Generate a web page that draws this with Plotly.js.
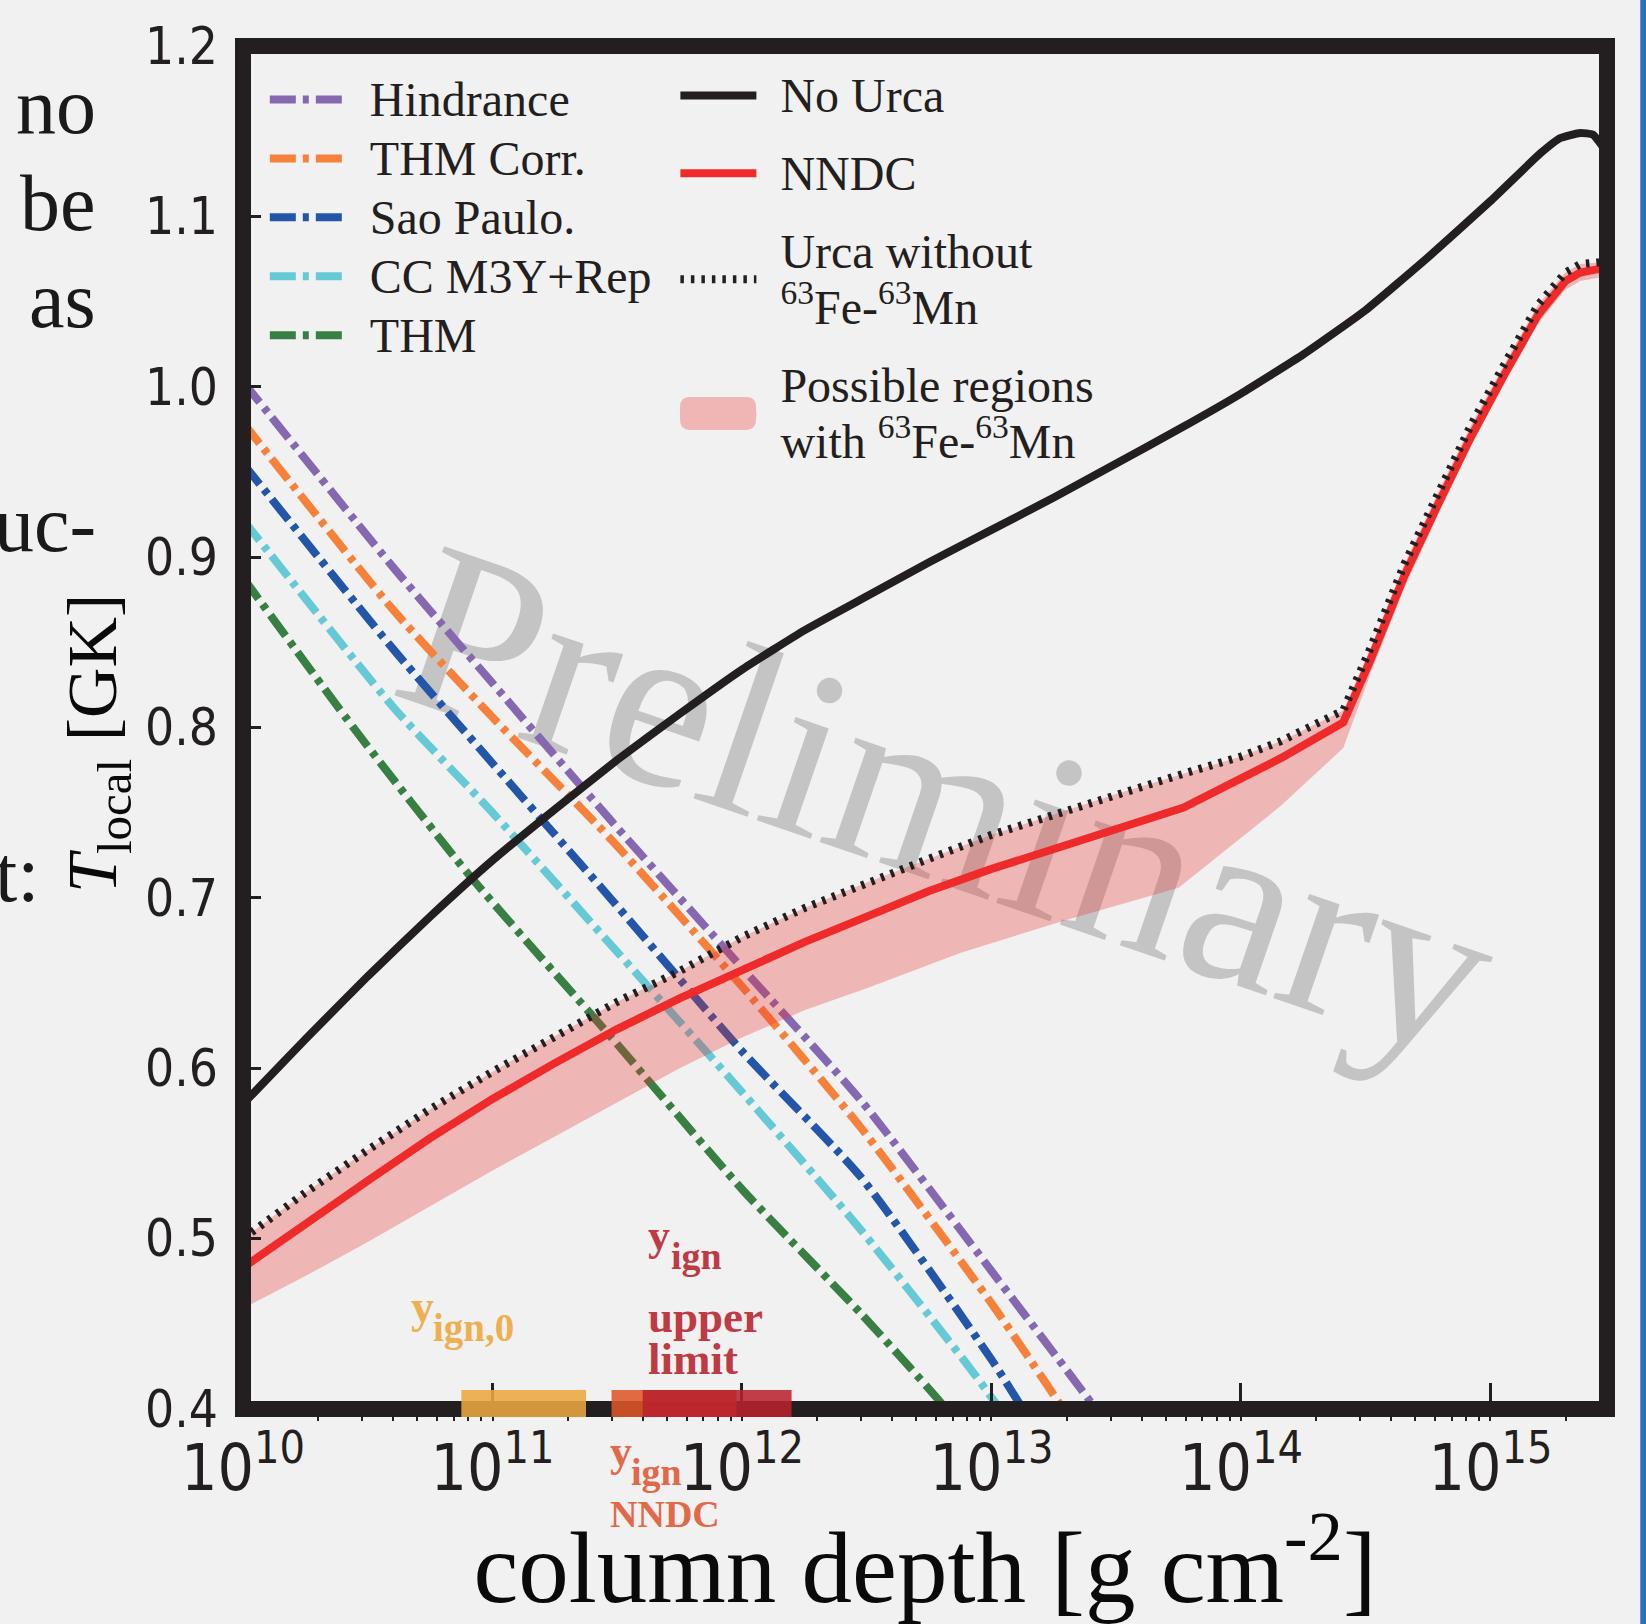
<!DOCTYPE html>
<html>
<head>
<meta charset="utf-8">
<script src="https://cdn.plot.ly/plotly-3.0.1.min.js"></script>
<style>
html,body{margin:0;padding:0;background:#f1f1f1;}
#chart{width:1646px;height:1624px;}
</style>
</head>
<body>
<div id="chart"></div>
<script>
// ---------- data (column depth in g cm^-2, temperature in GK) ----------
const hindranceX = [1e10, 4e10, 1e11, 3e11, 1e12, 3e12, 1e13, 2.5e13, 3e13];
const hindranceY = [1.003, 0.894, 0.826, 0.745, 0.659, 0.581, 0.481, 0.404, 0.388];

const thmCorrX = [1e10, 4e10, 1e11, 3e11, 1e12, 3e12, 1e13, 2e13];
const thmCorrY = [0.979, 0.869, 0.806, 0.734, 0.648, 0.565, 0.462, 0.397];

const saoPauloX = [1e10, 4e10, 1e11, 3e11, 1e12, 3e12, 1e13, 1.5e13];
const saoPauloY = [0.955, 0.846, 0.779, 0.699, 0.610, 0.536, 0.429, 0.388];

const ccM3yX = [1e10, 4e10, 1e11, 3e11, 1e12, 3e12, 8e12, 1.2e13];
const ccM3yY = [0.922, 0.812, 0.750, 0.672, 0.586, 0.505, 0.426, 0.391];

const thmX = [1e10, 2.8e10, 8e10, 3e11, 1e12, 3e12, 6e12, 8e12];
const thmY = [0.888, 0.799, 0.714, 0.618, 0.529, 0.456, 0.407, 0.385];

const noUrcaX = [1e10, 1.778e10, 3.162e10, 5.623e10, 1e11, 1.778e11, 3.162e11, 5.623e11, 1e12, 1.778e12,
                 3.162e12, 5.623e12, 1e13, 1.778e13, 3.162e13, 5.623e13, 1e14, 1.778e14, 3.162e14, 5.623e14,
                 1e15, 1.585e15, 1.905e15, 2.291e15, 2.570e15, 2.818e15];
const noUrcaY = [0.579, 0.617, 0.654, 0.689, 0.722, 0.752, 0.781, 0.808, 0.834, 0.857,
                 0.877, 0.897, 0.916, 0.935, 0.955, 0.975, 0.996, 1.019, 1.045, 1.076,
                 1.109, 1.137, 1.146, 1.149, 1.148, 1.141];

const nndcX = [1e10, 1.778e10, 3.162e10, 5.623e10, 1e11, 1.778e11, 3.162e11, 5.623e11, 1e12, 1.778e12,
               3.162e12, 5.623e12, 1e13, 1.778e13, 3.162e13, 5.888e13, 1.445e14, 2.570e14, 3.311e14, 4.519e14,
               6.166e14, 8.318e14, 1.135e15, 1.549e15, 1.995e15, 2.291e15, 2.692e15, 2.951e15];
const nndcY = [0.483, 0.509, 0.534, 0.559, 0.582, 0.603, 0.623, 0.641, 0.658, 0.674,
               0.689, 0.704, 0.717, 0.729, 0.741, 0.753, 0.782, 0.803, 0.840, 0.889,
               0.931, 0.970, 1.007, 1.042, 1.062, 1.067, 1.069, 1.069];

const noFeMnX = [1e10, 1.778e10, 3.162e10, 5.623e10, 1e11, 1.778e11, 3.162e11, 5.623e11, 1e12, 1.778e12,
                 3.162e12, 5.623e12, 1e13, 1.778e13, 3.162e13, 5.623e13, 1e14, 1.445e14, 2.570e14, 3.311e14,
                 4.519e14, 6.166e14, 8.318e14, 1.135e15, 1.549e15, 1.995e15, 2.291e15, 2.692e15, 2.951e15];
const noFeMnY = [0.500, 0.527, 0.552, 0.576, 0.598, 0.619, 0.639, 0.657, 0.677, 0.694,
                 0.709, 0.723, 0.737, 0.749, 0.761, 0.772, 0.783, 0.792, 0.810, 0.847,
                 0.896, 0.938, 0.977, 1.013, 1.048, 1.067, 1.072, 1.073, 1.073];

const regionLowX = [1e10, 1.778e10, 3.162e10, 5.623e10, 1e11, 1.778e11, 3.162e11, 5.623e11, 1e12, 1.778e12,
                    3.162e12, 7.586e12, 1.995e13, 5.623e13, 1.445e14, 2.570e14, 3.311e14, 4.519e14, 6.166e14,
                    8.318e14, 1.135e15, 1.549e15, 1.995e15, 2.291e15, 2.692e15, 2.951e15];
const regionLowY = [0.459, 0.478, 0.498, 0.519, 0.540, 0.560, 0.580, 0.600, 0.618, 0.634,
                    0.647, 0.668, 0.687, 0.706, 0.754, 0.788, 0.832, 0.882, 0.925,
                    0.965, 1.002, 1.037, 1.057, 1.062, 1.064, 1.064];
const regionHighX = noFeMnX;
const regionHighY = noFeMnY;

// ignition depth ranges (g cm^-2)
const ignLabels = ['y_ign,0', 'y_ign NNDC', 'y_ign upper limit'];
const ignLow  = [7.5e10, 3.0e11, 4.0e11];
const ignHigh = [2.37e11, 9.5e11, 1.58e12];

const yTickVals = [0.4, 0.5, 0.6, 0.7, 0.8, 0.9, 1.0, 1.1, 1.2];

// ---------- styling ----------
const serif = 'Liberation Serif, Times New Roman, DejaVu Serif, serif';
const narrow = 'DejaVu Sans Condensed, Liberation Sans Narrow, DejaVu Sans, sans-serif';
const ink = '#231f20';
const dashDot = '26px,7px,6px,7px';
const gap = '<span style="font-size:76px">\u00a0</span>';
function legName(line) { return gap + '<span style="font-size:48px">' + line + '</span>'; }

function dd(x, y, name, color, rank) {
  return {x: x, y: y, name: legName(name), type: 'scatter', mode: 'lines',
          line: {color: color, width: 8, dash: dashDot, shape: 'spline', smoothing: 0.6},
          legend: 'legend', legendrank: rank, hoverinfo: 'skip'};
}

const traces = [
  dd(hindranceX, hindranceY, 'Hindrance', '#8668b0', 1),
  dd(thmCorrX, thmCorrY, 'THM Corr.', '#f5813a', 2),
  dd(saoPauloX, saoPauloY, 'Sao Paulo.', '#2356a8', 3),
  dd(ccM3yX, ccM3yY, 'CC M3Y+Rep', '#66c9d6', 4),
  dd(thmX, thmY, 'THM', '#387f44', 5),
  // possible-region band (translucent, so the watermark shows through)
  {x: regionLowX, y: regionLowY, type: 'scatter', mode: 'lines', line: {width: 0, color: 'rgba(0,0,0,0)'},
   showlegend: false, hoverinfo: 'skip'},
  {x: regionHighX, y: regionHighY, type: 'scatter', mode: 'lines', fill: 'tonexty',
   fillcolor: 'rgba(235,45,45,0.30)', line: {width: 0, color: 'rgba(0,0,0,0)'},
   showlegend: false, hoverinfo: 'skip'},
  {x: noUrcaX, y: noUrcaY, type: 'scatter', mode: 'lines', name: legName('No Urca'),
   line: {color: ink, width: 8, shape: 'spline', smoothing: 0.4}, legend: 'legend2', legendgroup: 'g1', legendrank: 1, hoverinfo: 'skip'},
  {x: nndcX, y: nndcY, type: 'scatter', mode: 'lines', name: legName('NNDC'),
   line: {color: '#ee2a2a', width: 8}, legend: 'legend2', legendgroup: 'g2', legendrank: 2, hoverinfo: 'skip'},
  {x: noFeMnX, y: noFeMnY, type: 'scatter', mode: 'lines',
   name: legName('Urca without') + '<br>' + legName('<sup>63</sup>Fe-<sup>63</sup>Mn'),
   line: {color: ink, width: 8, dash: '3.5px,7px'}, legend: 'legend2', legendgroup: 'g3', legendrank: 3, hoverinfo: 'skip'},
  // legend entry for the band
  {x: [null], y: [null], type: 'scatter', mode: 'lines', fill: 'toself', fillcolor: '#f0b6b6',
   line: {width: 0, color: 'rgba(0,0,0,0)'},
   name: legName('Possible regions') + '<br>' + legName('with <sup>63</sup>Fe-<sup>63</sup>Mn'),
   legend: 'legend2', legendgroup: 'g4', legendrank: 4, hoverinfo: 'skip'}
];

// ---------- shapes ----------
const sx0 = 0.3204, sx1 = 0.3761, sy0 = 0.7183, sy1 = 0.7425, rx = 0.0073, ry = 0.0073;
const swatchPath = 'M' + (sx0 + rx) + ',' + sy0 + ' L' + (sx1 - rx) + ',' + sy0 + ' Q' + sx1 + ',' + sy0 + ' ' + sx1 + ',' + (sy0 + ry) +
  ' L' + sx1 + ',' + (sy1 - ry) + ' Q' + sx1 + ',' + sy1 + ' ' + (sx1 - rx) + ',' + sy1 +
  ' L' + (sx0 + rx) + ',' + sy1 + ' Q' + sx0 + ',' + sy1 + ' ' + sx0 + ',' + (sy1 - ry) +
  ' L' + sx0 + ',' + (sy0 + ry) + ' Q' + sx0 + ',' + sy0 + ' ' + (sx0 + rx) + ',' + sy0 + ' Z';

const shapes = [
  // watermark (below the data)
  {type: 'rect', xref: 'paper', yref: 'paper', x0: 0.4735, x1: 0.5735, y0: 0.4145, y1: 0.5145,
   line: {width: 0}, fillcolor: 'rgba(0,0,0,0)', layer: 'below',
   label: {text: 'Preliminary', font: {family: serif, size: 240, color: '#c4c4c4'}, textangle: 19, textposition: 'middle center'}},
  // thick frame
  {type: 'rect', xref: 'paper', yref: 'paper', x0: 0, x1: 1, y0: 0, y1: 1,
   line: {width: 16, color: ink}, fillcolor: 'rgba(0,0,0,0)', layer: 'above'},
  // rounded legend swatch for the possible-region band
  {type: 'path', xref: 'paper', yref: 'paper', path: swatchPath, fillcolor: '#f0b6b6', line: {width: 0}, layer: 'above'},
  // blue slide edge
  {type: 'line', xref: 'paper', yref: 'paper', x0: 1.0266, x1: 1.0266, y0: -0.17, y1: 1.05,
   line: {width: 6, color: '#2d6fbf'}, layer: 'above'}
];
const ignColors = ['rgba(235,167,64,0.88)', 'rgba(222,86,40,0.88)', 'rgba(185,33,45,0.87)'];
for (let i = 0; i < ignLow.length; i++) {
  shapes.push({type: 'rect', xref: 'x', yref: 'paper', x0: ignLow[i], x1: ignHigh[i], y0: -0.0059, y1: 0.0139,
               line: {width: 0}, fillcolor: ignColors[i], layer: 'above', name: ignLabels[i]});
}

// ---------- annotations ----------
function txt(text, x, y, size, color, opts) {
  return Object.assign({text: text, xref: 'paper', yref: 'paper', x: x, y: y, showarrow: false,
    xanchor: 'left', yanchor: 'middle', align: 'left', borderpad: 0,
    font: {family: serif, size: size, color: color}}, opts || {});
}
const ylab = '#be3a44', olab = '#e0694a', glab = '#ecb050';
const annotations = [
  // slide text cut by the crop
  txt('no', -0.107, 0.956, 80, '#1a1a1a', {xanchor: 'right'}),
  txt('be', -0.107, 0.885, 80, '#1a1a1a', {xanchor: 'right'}),
  txt('as', -0.107, 0.8137, 80, '#1a1a1a', {xanchor: 'right'}),
  txt('uc-', -0.107, 0.6495, 80, '#1a1a1a', {xanchor: 'right'}),
  txt('t:', -0.1488, 0.3925, 80, '#1a1a1a', {xanchor: 'right'}),
  // y-axis title
  txt('<i>T</i><sub>local</sub> [GK]', -0.1063, 0.4879, 70, '#0a0a0a', {xanchor: 'center', textangle: -90}),
  // ignition-depth labels
  txt('<b>y</b>', 0.1224, 0.0752, 46, glab),
  txt('<b>ign,0</b>', 0.1386, 0.0591, 39, glab),
  txt('<b>y</b>', 0.2962, 0.1273, 44, ylab),
  txt('<b>ign</b>', 0.3130, 0.1119, 38, ylab),
  txt('<b>upper</b>', 0.2962, 0.0675, 45, ylab),
  txt('<b>limit</b>', 0.2962, 0.0367, 45, ylab),
  txt('<b>y</b>', 0.2683, -0.0315, 44, olab),
  txt('<b>ign</b>', 0.2837, -0.0462, 38, olab),
  txt('<b>NNDC</b>', 0.2683, -0.0774, 38, olab)
];

const layout = {
  width: 1646, height: 1624,
  margin: {l: 243, r: 39, t: 46, b: 215, pad: 0},
  paper_bgcolor: '#f1f1f1', plot_bgcolor: '#f1f1f1',
  showlegend: true,
  xaxis: {
    type: 'log', range: [10, 15.467], dtick: 1, exponentformat: 'power', showexponent: 'all',
    ticks: 'inside', ticklen: 26, tickwidth: 3, tickcolor: ink,
    minor: {ticks: 'outside', ticklen: 11, tickwidth: 2, tickcolor: ink, dtick: 'D1', showgrid: false},
    showgrid: false, zeroline: false, showline: false, automargin: false,
    tickfont: {family: narrow, size: 51, color: ink},
    ticklabelstandoff: 16,
    title: {text: 'column depth [g cm<sup>-2</sup>]', font: {family: serif, size: 101, color: '#0a0a0a'}, standoff: 18}
  },
  yaxis: {
    range: [0.4, 1.2], tickvals: yTickVals, tickformat: '.1f',
    ticks: 'inside', ticklen: 18, tickwidth: 3, tickcolor: ink,
    showgrid: false, zeroline: false, showline: false, automargin: false,
    tickfont: {family: narrow, size: 51, color: ink},
    ticklabelstandoff: 24
  },
  legend: {x: 0.016, y: 0.986, xanchor: 'left', yanchor: 'top', bgcolor: 'rgba(0,0,0,0)', borderwidth: 0,
           font: {family: serif, size: 43, color: ink}, itemwidth: 76, traceorder: 'normal'},
  legend2: {x: 0.317, y: 0.989, xanchor: 'left', yanchor: 'top', bgcolor: 'rgba(0,0,0,0)', borderwidth: 0,
            font: {family: serif, size: 43, color: ink}, itemwidth: 76, traceorder: 'grouped', tracegroupgap: 19},
  shapes: shapes,
  annotations: annotations
};

Plotly.newPlot('chart', traces, layout, {displayModeBar: false, staticPlot: true});
</script>
</body>
</html>
